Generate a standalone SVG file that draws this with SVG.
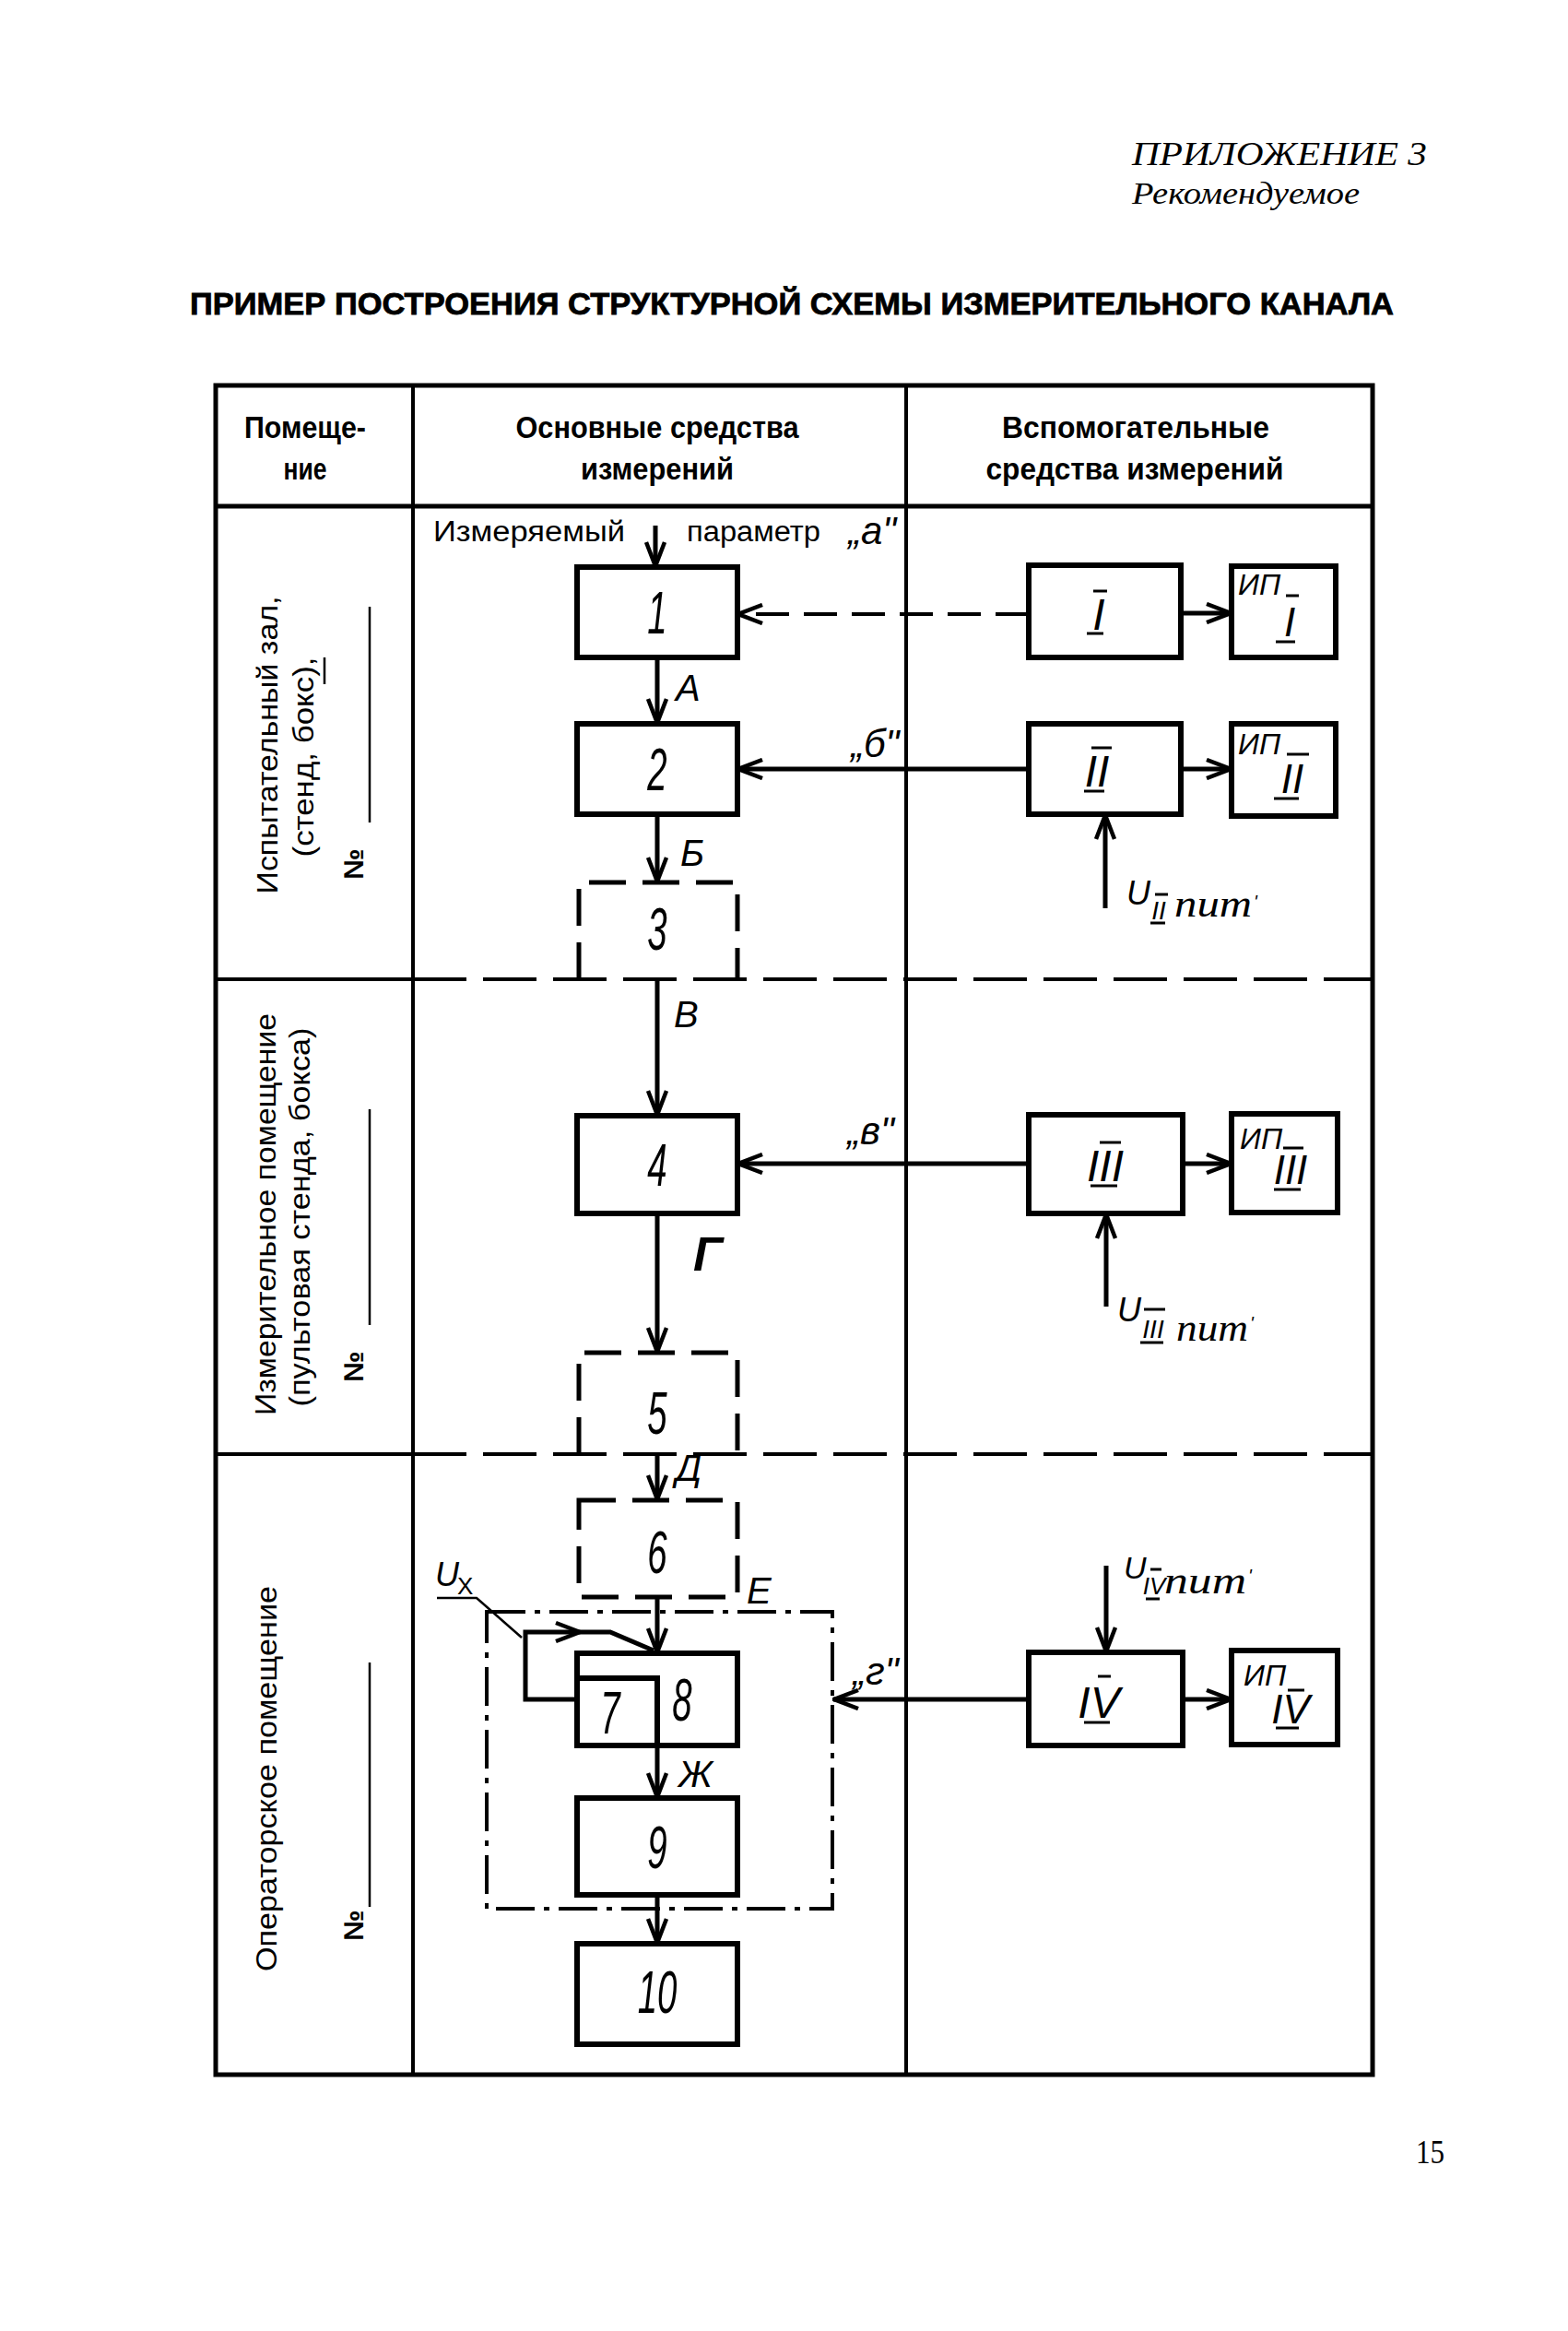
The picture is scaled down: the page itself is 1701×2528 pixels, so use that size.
<svg xmlns="http://www.w3.org/2000/svg" width="1701" height="2528" viewBox="0 0 1701 2528">
<style>
.bg{fill:#fff}
.tb{fill:none;stroke:#000;stroke-width:5}
.tl{fill:none;stroke:#000;stroke-width:4}
.thin{fill:none;stroke:#000;stroke-width:2.5}
.rowd{fill:none;stroke:#000;stroke-width:4;stroke-dasharray:58 18}
.box{fill:none;stroke:#000;stroke-width:6}
.dbox{fill:none;stroke:#000;stroke-width:5;stroke-dasharray:40 18}
.ebox{fill:none;stroke:#000;stroke-width:4;stroke-dasharray:42 10 6 10}
.conn{fill:none;stroke:#000;stroke-width:5}
.dconn{fill:none;stroke:#000;stroke-width:4;stroke-dasharray:36 16}
.bar{stroke:#000;stroke-width:3}
.hdr{font-family:"Liberation Sans",Arial,sans-serif;font-weight:bold;font-size:33px;text-anchor:middle}
.ttl{font-family:"Liberation Sans",Arial,sans-serif;font-weight:bold;font-size:34px;stroke:#000;stroke-width:0.8}
.rt{font-family:"Liberation Sans",Arial,sans-serif;font-size:31px;text-anchor:middle}
.no{font-family:"Liberation Sans",Arial,sans-serif;font-weight:bold;font-size:30px;text-anchor:middle}
.sans{font-family:"Liberation Sans",Arial,sans-serif;font-size:31px}
.it{font-family:"Liberation Sans",Arial,sans-serif;font-style:italic}
.dg{font-size:64px;text-anchor:middle}
.lt{font-size:40px}
.q{font-size:42px}
.rn{font-size:48px;text-anchor:middle}
.rns{font-size:44px;text-anchor:middle}
.ip{font-size:32px}
.ser{font-family:"Liberation Serif","Times New Roman",serif;font-style:italic}
</style>
<defs>
<marker id="ah" viewBox="0 0 30 24" refX="29" refY="12" markerWidth="30" markerHeight="24" markerUnits="userSpaceOnUse" orient="auto">
<path d="M2,2 L28,12 L2,22" fill="none" stroke="#000" stroke-width="4.5"/>
</marker>
</defs>
<rect class="bg" x="0" y="0" width="1701" height="2528"/>

<g id="page-header">
<text class="ser" x="1228" y="179" font-size="35" textLength="320" lengthAdjust="spacingAndGlyphs">ПРИЛОЖЕНИЕ 3</text>
<text class="ser" x="1228" y="221" font-size="33" textLength="247" lengthAdjust="spacingAndGlyphs">Рекомендуемое</text>
<text class="ttl" x="206" y="341" textLength="1306" lengthAdjust="spacingAndGlyphs">ПРИМЕР ПОСТРОЕНИЯ СТРУКТУРНОЙ СХЕМЫ ИЗМЕРИТЕЛЬНОГО КАНАЛА</text>
<text font-family="'Liberation Serif','Times New Roman',serif" font-size="36" x="1536" y="2346" textLength="31" lengthAdjust="spacingAndGlyphs">15</text>
</g>

<g id="table">
<rect class="tb" x="234" y="418" width="1255" height="1832"/>
<line class="tl" x1="448" y1="418" x2="448" y2="2250"/>
<line class="tl" x1="983" y1="418" x2="983" y2="2250"/>
<line class="tb" x1="234" y1="549" x2="1489" y2="549"/>
<line class="tl" x1="234" y1="1062" x2="448" y2="1062"/>
<line class="rowd" x1="448" y1="1062" x2="1489" y2="1062"/>
<line class="tl" x1="234" y1="1577" x2="448" y2="1577"/>
<line class="rowd" x1="448" y1="1577" x2="1489" y2="1577"/>
<text class="hdr" x="331" y="475" textLength="132" lengthAdjust="spacingAndGlyphs">Помеще-</text>
<text class="hdr" x="331" y="520" textLength="47" lengthAdjust="spacingAndGlyphs">ние</text>
<text class="hdr" x="713" y="475" textLength="307" lengthAdjust="spacingAndGlyphs">Основные средства</text>
<text class="hdr" x="713" y="520" textLength="166" lengthAdjust="spacingAndGlyphs">измерений</text>
<text class="hdr" x="1232" y="475" textLength="290" lengthAdjust="spacingAndGlyphs">Вспомогательные</text>
<text class="hdr" x="1231" y="520" textLength="323" lengthAdjust="spacingAndGlyphs">средства измерений</text>
</g>

<g id="room-1">
<text class="rt" transform="translate(301,808) rotate(-90)" textLength="323" lengthAdjust="spacingAndGlyphs">Испытательный зал,</text>
<text class="rt" transform="translate(340,821) rotate(-90)" textLength="217" lengthAdjust="spacingAndGlyphs">(стенд, бокс),</text>
<line class="thin" x1="352" y1="713" x2="352" y2="742"/>
<text class="no" transform="translate(394,937) rotate(-90)">№</text>
<line class="thin" x1="401" y1="658" x2="401" y2="892"/>
</g>
<g id="room-2">
<text class="rt" transform="translate(299,1317) rotate(-90)" textLength="436" lengthAdjust="spacingAndGlyphs">Измерительное помещение</text>
<text class="rt" transform="translate(336,1320) rotate(-90)" textLength="411" lengthAdjust="spacingAndGlyphs">(пультовая стенда, бокса)</text>
<text class="no" transform="translate(394,1482) rotate(-90)">№</text>
<line class="thin" x1="401" y1="1203" x2="401" y2="1437"/>
</g>
<g id="room-3">
<text class="rt" transform="translate(300,1929) rotate(-90)" textLength="418" lengthAdjust="spacingAndGlyphs">Операторское помещение</text>
<text class="no" transform="translate(394,2088) rotate(-90)">№</text>
<line class="thin" x1="401" y1="1803" x2="401" y2="2068"/>
</g>

<g id="connectors">
<path class="conn" d="M711,570 V615" marker-end="url(#ah)"/>
<path class="conn" d="M713,713 V785" marker-end="url(#ah)"/>
<path class="conn" d="M713,883 V957" marker-end="url(#ah)"/>
<path class="conn" d="M713,1062 V1210" marker-end="url(#ah)"/>
<path class="conn" d="M713,1316 V1467" marker-end="url(#ah)"/>
<path class="conn" d="M713,1577 V1627" marker-end="url(#ah)"/>
<path class="conn" d="M713,1732 V1793" marker-end="url(#ah)"/>
<path class="conn" d="M713,1893 V1950" marker-end="url(#ah)"/>
<path class="conn" d="M713,2055 V2108" marker-end="url(#ah)"/>
<path class="dconn" d="M1116,666 H800" marker-end="url(#ah)"/>
<path class="conn" d="M1116,834 H800" marker-end="url(#ah)"/>
<path class="conn" d="M1116,1262 H800" marker-end="url(#ah)"/>
<path class="conn" d="M1116,1843 H904" marker-end="url(#ah)"/>
<path class="conn" d="M1281,665 H1336" marker-end="url(#ah)"/>
<path class="conn" d="M1281,834 H1336" marker-end="url(#ah)"/>
<path class="conn" d="M1283,1262 H1336" marker-end="url(#ah)"/>
<path class="conn" d="M1283,1843 H1336" marker-end="url(#ah)"/>
<path class="conn" d="M1199,985 V883" marker-end="url(#ah)"/>
<path class="conn" d="M1200,1417 V1316" marker-end="url(#ah)"/>
<path class="conn" d="M1200,1698 V1792" marker-end="url(#ah)"/>
<path class="conn" d="M626,1843 H570 V1770 H662 L709,1790"/>
<path d="M603,1760 L629,1770 L603,1780" fill="none" stroke="#000" stroke-width="4.5"/>
<path class="thin" d="M474,1733 H517 L566,1776"/>
</g>

<g id="input-label">
<text class="sans" x="470" y="587" textLength="208" lengthAdjust="spacingAndGlyphs">Измеряемый</text>
<text class="sans" x="745" y="587" textLength="145" lengthAdjust="spacingAndGlyphs">параметр</text>
<text class="it q" x="920" y="590">„а"</text>
</g>

<g id="node-1"><rect class="box" x="626" y="615" width="174" height="98"/><text class="it dg" transform="translate(713,687) scale(0.6,1)">1</text></g>
<text class="it lt" x="733" y="760">А</text>
<g id="node-2"><rect class="box" x="626" y="785" width="174" height="98"/><text class="it dg" transform="translate(713,857) scale(0.6,1)">2</text></g>
<text class="it lt" x="738" y="939">Б</text>
<g id="node-3"><path class="dbox" d="M628,1062 V957 H800 V1062"/><text class="it dg" transform="translate(713,1030) scale(0.6,1)">3</text></g>
<text class="it lt" x="731" y="1114">В</text>
<g id="node-4"><rect class="box" x="626" y="1210" width="174" height="106"/><text class="it dg" transform="translate(713,1286) scale(0.6,1)">4</text></g>
<text class="it" x="752" y="1378" font-size="52" font-weight="bold">Г</text>
<g id="node-5"><path class="dbox" d="M628,1577 V1467 H800 V1577"/><text class="it dg" transform="translate(713,1555) scale(0.6,1)">5</text></g>
<text class="it lt" x="733" y="1606">Д</text>
<g id="node-6"><rect class="dbox" x="628" y="1627" width="172" height="105"/><text class="it dg" transform="translate(713,1706) scale(0.6,1)">6</text></g>
<g id="group-E"><rect class="ebox" x="528" y="1748" width="375" height="322"/><text class="it lt" x="810" y="1739">Е</text></g>
<g id="node-8"><rect class="box" x="626" y="1793" width="174" height="100"/><text class="it dg" transform="translate(740,1866) scale(0.6,1)">8</text></g>
<g id="node-7"><path class="box" d="M626,1820 H713 V1893"/><text class="it dg" transform="translate(662,1880) scale(0.6,1)">7</text></g>
<g id="label-Ux"><text class="it" x="472" y="1720" font-size="36">U</text><text font-family="'Liberation Sans',Arial,sans-serif" x="496" y="1729" font-size="26">X</text></g>
<text class="it lt" x="736" y="1938">Ж</text>
<g id="node-9"><rect class="box" x="626" y="1950" width="174" height="105"/><text class="it dg" transform="translate(713,2026) scale(0.6,1)">9</text></g>
<g id="node-10"><rect class="box" x="626" y="2108" width="174" height="109"/><text class="it dg" transform="translate(713,2183) scale(0.6,1)">10</text></g>

<g id="quote-labels">
<text class="it q" x="923" y="821">„б"</text>
<text class="it q" x="919" y="1241">„в"</text>
<text class="it q" x="925" y="1827">„г"</text>
</g>

<g id="node-I">
<rect class="box" x="1116" y="613" width="165" height="100"/>
<text class="it rn" x="1192" y="683">I</text>
<line class="bar" x1="1186" y1="641" x2="1201" y2="641"/><line class="bar" x1="1179" y1="687" x2="1197" y2="687"/>
</g>
<g id="node-IP-I">
<rect class="box" x="1336" y="614" width="113" height="99"/>
<text class="it ip" x="1343" y="645">ИП</text>
<text class="it rns" x="1399" y="690">I</text>
<line class="bar" x1="1395" y1="646" x2="1409" y2="646"/><line class="bar" x1="1384" y1="696" x2="1405" y2="696"/>
</g>
<g id="node-II">
<rect class="box" x="1116" y="785" width="165" height="98"/>
<text class="it rn" x="1190" y="853">II</text>
<line class="bar" x1="1184" y1="811" x2="1206" y2="811"/><line class="bar" x1="1176" y1="858" x2="1198" y2="858"/>
</g>
<g id="node-IP-II">
<rect class="box" x="1336" y="785" width="113" height="100"/>
<text class="it ip" x="1343" y="818">ИП</text>
<text class="it rns" x="1402" y="860">II</text>
<line class="bar" x1="1396" y1="818" x2="1420" y2="818"/><line class="bar" x1="1382" y1="866" x2="1409" y2="866"/>
</g>
<g id="label-U-II">
<text class="it" x="1222" y="981" font-size="36">U</text>
<text class="it" x="1257" y="997" font-size="28" text-anchor="middle">II</text>
<line class="bar" x1="1253" y1="970" x2="1267" y2="970"/><line class="bar" x1="1248" y1="1001" x2="1264" y2="1001"/>
<text class="ser" x="1274" y="994" font-size="42" textLength="84" lengthAdjust="spacingAndGlyphs">пит</text>
<text class="it" x="1360" y="985" font-size="20">'</text>
</g>
<g id="node-III">
<rect class="box" x="1116" y="1209" width="167" height="107"/>
<text class="it rn" x="1199" y="1281">III</text>
<line class="bar" x1="1193" y1="1239" x2="1216" y2="1239"/><line class="bar" x1="1183" y1="1286" x2="1212" y2="1286"/>
</g>
<g id="node-IP-III">
<rect class="box" x="1336" y="1208" width="115" height="107"/>
<text class="it ip" x="1345" y="1246">ИП</text>
<text class="it rns" x="1400" y="1284">III</text>
<line class="bar" x1="1392" y1="1245" x2="1414" y2="1245"/><line class="bar" x1="1382" y1="1290" x2="1411" y2="1290"/>
</g>
<g id="label-U-III">
<text class="it" x="1212" y="1433" font-size="36">U</text>
<text class="it" x="1251" y="1451" font-size="28" text-anchor="middle">III</text>
<line class="bar" x1="1241" y1="1420" x2="1264" y2="1420"/><line class="bar" x1="1237" y1="1456" x2="1262" y2="1456"/>
<text class="ser" x="1276" y="1454" font-size="42" textLength="78" lengthAdjust="spacingAndGlyphs">пит</text>
<text class="it" x="1356" y="1442" font-size="20">'</text>
</g>
<g id="node-IV">
<rect class="box" x="1116" y="1792" width="167" height="101"/>
<text class="it rn" x="1192" y="1863">IV</text>
<line class="bar" x1="1191" y1="1818" x2="1205" y2="1818"/><line class="bar" x1="1176" y1="1868" x2="1204" y2="1868"/>
</g>
<g id="node-IP-IV">
<rect class="box" x="1336" y="1790" width="115" height="102"/>
<text class="it ip" x="1349" y="1828">ИП</text>
<text class="it rns" x="1400" y="1869">IV</text>
<line class="bar" x1="1397" y1="1833" x2="1415" y2="1833"/><line class="bar" x1="1384" y1="1874" x2="1409" y2="1874"/>
</g>
<g id="label-U-IV">
<text class="it" x="1219" y="1712" font-size="34">U</text>
<text class="it" x="1252" y="1729" font-size="26" text-anchor="middle">IV</text>
<line class="bar" x1="1248" y1="1702" x2="1260" y2="1702"/><line class="bar" x1="1243" y1="1734" x2="1258" y2="1734"/>
<text class="ser" x="1263" y="1728" font-size="42" textLength="89" lengthAdjust="spacingAndGlyphs">пит</text>
<text class="it" x="1354" y="1716" font-size="20">'</text>
</g>
</svg>
